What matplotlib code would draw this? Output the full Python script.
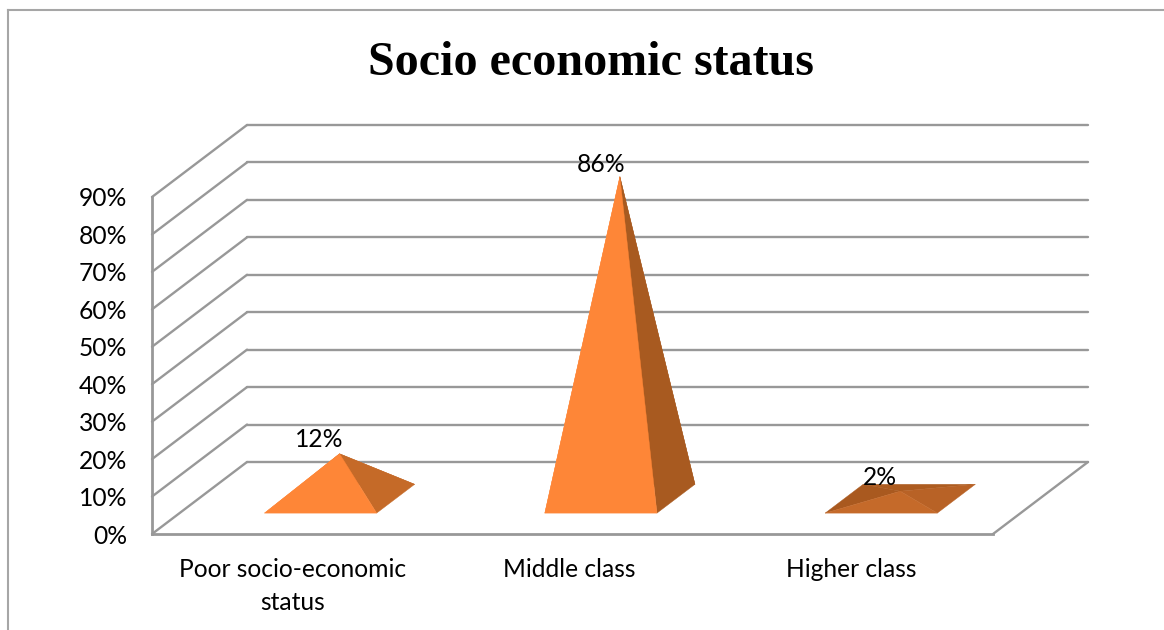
import matplotlib
matplotlib.use('Agg')
import matplotlib.pyplot as plt
from matplotlib.lines import Line2D

categories = ['Poor socio-economic\nstatus', 'Middle class', 'Higher class']
values = [12, 86, 2]
value_labels = ['12%', '86%', '2%']
ticks = [0, 10, 20, 30, 40, 50, 60, 70, 80, 90]

front_colors = ['#fe8637', '#fe8637', '#c56a2a']
right_colors = ['#c56a28', '#a85a20', '#b86226']
left_colors = ['#fe8637', '#fe8637', '#a9591f']
back_colors = ['#c56a28', '#a85a20', '#ad5c20']
label_offsets = [(-20, 14), (-19, 12), (-20, 14)]

GRAY = '#989898'
W, H = 1164, 630
# depth of the 3d box, in data units
DX = 95 / 280.33
DY = 72 / 3.744

plt.rcParams['font.family'] = ['Lato', 'DejaVu Sans']


def project(x, y, d):
    return x + d * DX, y + d * DY


def wall_line(ax, a, b):
    ax.plot([a[0], b[0]], [a[1], b[1]], color=GRAY, lw=1.7, clip_on=False,
            solid_capstyle='round', zorder=1)


def pyramid(ax, i, val):
    cx = i + 0.503
    hw = 0.2
    fl = project(cx - hw, 0, 0.29)
    fr = project(cx + hw, 0, 0.29)
    bl = project(cx - hw, 0, 0.69)
    br = project(cx + hw, 0, 0.69)
    top = project(cx, val, 0.49)
    faces = [([bl, br, top], back_colors[i]),
             ([fl, bl, top], left_colors[i]),
             ([fr, br, top], right_colors[i]),
             ([fl, fr, top], front_colors[i])]
    for pts, col in faces:
        ax.fill([p[0] for p in pts], [p[1] for p in pts], color=col, lw=0.3,
                clip_on=False, zorder=3)
    return top


fig = plt.figure(figsize=(W / 100, H / 100), dpi=100, facecolor='white')
ax = fig.add_axes([152 / W, (H - 534) / H, (993 - 152) / W, (534 - 197) / H])
ax.set_xlim(0, 3)
ax.set_ylim(0, 90)
ax.patch.set_visible(False)

for s in ['top', 'right']:
    ax.spines[s].set_visible(False)
for s in ['left', 'bottom']:
    ax.spines[s].set_color(GRAY)
    ax.spines[s].set_linewidth(2)

ax.set_yticks(ticks)
ax.set_yticklabels(['%d%%' % t for t in ticks], fontsize=17.7, color='black')
ax.set_xticks([0.5, 1.49, 2.495])
ax.set_xticklabels(categories, fontsize=17.7, color='black', linespacing=1.55)
ax.tick_params(axis='y', length=0, pad=18)
ax.tick_params(axis='x', length=0, pad=17)

for t in ticks:
    wall_line(ax, project(0, t, 0), project(0, t, 1))
    wall_line(ax, project(0, t, 1), project(3, t, 1))
wall_line(ax, project(3, 0, 0), project(3, 0, 1))

for i, val in enumerate(values):
    top = pyramid(ax, i, val)
    ax.annotate(value_labels[i], xy=top, xytext=label_offsets[i],
                textcoords='offset pixels', ha='center', va='center',
                fontsize=17.7, color='black', annotation_clip=False, zorder=5)

fig.text(591 / W, 1 - 63 / H, 'Socio economic status', ha='center', va='center',
         fontsize=34.6, fontweight='bold', family='Liberation Serif', color='black')

# chart frame, open at the right and bottom edge of the crop
fig.add_artist(Line2D([8 / W, 8 / W], [0, 1 - 10 / H], color='#a6a6a6', lw=1.5))
fig.add_artist(Line2D([8 / W, 1], [1 - 10 / H, 1 - 10 / H], color='#a6a6a6', lw=1.5))

fig.savefig('out.png', dpi=100, facecolor='white')
